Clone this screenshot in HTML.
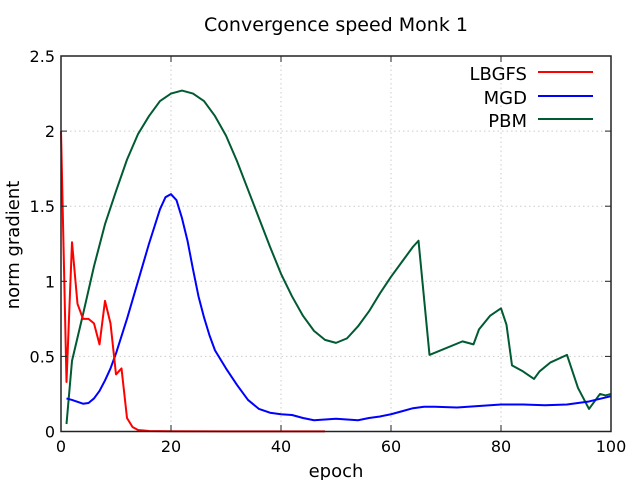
<!DOCTYPE html>
<html><head><meta charset="utf-8"><style>
body{margin:0;background:#fff}
svg text{font-family:"DejaVu Sans","Liberation Sans",sans-serif;fill:#000}
</style></head><body>
<svg id="chart" width="640" height="480" viewBox="0 0 640 480">
<rect width="640" height="480" fill="#fff"/>
<text x="336" y="31" font-size="19" text-anchor="middle">Convergence speed Monk 1</text>
<g id="grid"></g>
<g id="series"></g>
<rect x="61" y="56" width="550" height="375.5" fill="none" stroke="#222" stroke-width="1.5"/>
<g id="ticks"></g>
<text x="336" y="477" font-size="18" text-anchor="middle">epoch</text>
<text transform="translate(19,245) rotate(-90)" font-size="18" text-anchor="middle">norm gradient</text>
<g>
<text x="527" y="80" font-size="18" text-anchor="end">LBGFS</text>
<line x1="538" y1="72" x2="593" y2="72" stroke="#f00" stroke-width="2"/>
<text x="527" y="104" font-size="18" text-anchor="end">MGD</text>
<line x1="538" y1="96" x2="593" y2="96" stroke="#00f" stroke-width="2"/>
<text x="527" y="127" font-size="18" text-anchor="end">PBM</text>
<line x1="538" y1="119" x2="593" y2="119" stroke="#005a32" stroke-width="2"/>
</g>
</svg>
<script>
const xTicks=[0,20,40,60,80,100];
const yTicks=[0,0.5,1,1.5,2,2.5];
const yTickLabels=["0","0.5","1","1.5","2","2.5"];
const lbgfsEpochs=[0,1,2,3,4,5,6,7,8,9,10,11,12,13,14,16,20,30,40,48];
const lbgfsValues=[2.0,0.33,1.26,0.85,0.75,0.75,0.72,0.58,0.87,0.72,0.38,0.42,0.09,0.03,0.01,0.003,0.002,0.001,0.001,0.001];
const mgdEpochs=[1,2,4,5,6,7,8,9,10,12,14,16,18,19,20,21,22,23,24,25,26,27,28,30,32,34,36,38,40,42,44,46,48,50,52,54,56,58,60,62,64,66,68,72,76,80,84,88,92,96,100];
const mgdValues=[0.22,0.21,0.185,0.19,0.22,0.27,0.34,0.42,0.52,0.75,1.0,1.25,1.48,1.56,1.58,1.54,1.42,1.27,1.08,0.9,0.76,0.64,0.54,0.42,0.31,0.21,0.15,0.125,0.115,0.11,0.09,0.075,0.08,0.085,0.08,0.075,0.09,0.1,0.115,0.135,0.155,0.165,0.165,0.16,0.17,0.18,0.18,0.175,0.18,0.2,0.235];
const pbmEpochs=[1,2,4,6,8,10,12,14,16,18,20,22,24,26,28,30,32,34,36,38,40,42,44,46,48,50,52,54,56,58,60,62,64,65,67,73,75,76,78,80,81,82,84,86,87,89,92,94,96,98,99,100];
const pbmValues=[0.05,0.47,0.78,1.1,1.38,1.6,1.81,1.98,2.1,2.2,2.25,2.27,2.25,2.2,2.1,1.97,1.8,1.61,1.42,1.23,1.05,0.9,0.77,0.67,0.61,0.59,0.62,0.7,0.8,0.92,1.03,1.13,1.23,1.27,0.51,0.6,0.58,0.68,0.77,0.82,0.71,0.44,0.4,0.35,0.4,0.46,0.51,0.29,0.15,0.25,0.24,0.25];
const NS='http://www.w3.org/2000/svg';
const X=v=>61+v*5.5, Y=v=>431.5-v*150.2;
const grid=document.getElementById('grid'), ticks=document.getElementById('ticks'), ser=document.getElementById('series');
function mk(tag,attrs,parent){const e=document.createElementNS(NS,tag);for(const k in attrs)e.setAttribute(k,attrs[k]);parent.appendChild(e);return e;}
xTicks.forEach(t=>{
  const g=mk('line',{x1:X(t),x2:X(t),y1:56,y2:431,stroke:'#ccc','stroke-dasharray':'1.5,3'},grid);
  
  
  const a=mk('line',{x1:X(t),x2:X(t),y1:431,y2:425,stroke:'#222'},ticks);
  
  
  const b=mk('line',{x1:X(t),x2:X(t),y1:56,y2:62,stroke:'#222'},ticks);
  
  
  const l=mk('text',{x:X(t),y:452,'font-size':16,'text-anchor':'middle'},ticks);l.textContent=t;
  
  
});
yTicks.forEach((t,i)=>{
  const g=mk('line',{x1:61,x2:611,y1:Y(t),y2:Y(t),stroke:'#ccc','stroke-dasharray':'1.5,3'},grid);
  
  
  const a=mk('line',{x1:61,x2:67,y1:Y(t),y2:Y(t),stroke:'#222'},ticks);
  
  
  const b=mk('line',{x1:605,x2:611,y1:Y(t),y2:Y(t),stroke:'#222'},ticks);
  
  
  const l=mk('text',{x:55,y:Y(t)+6,'font-size':16,'text-anchor':'end'},ticks);l.textContent=yTickLabels[i];
  
  
});
function line(xs,ys,color,name){
  const p=mk('polyline',{points:xs.map((x,i)=>X(x)+','+Y(ys[i])).join(' '),fill:'none',stroke:color,'stroke-width':2,'stroke-linejoin':'round'},ser);
  
  
}
line(pbmEpochs,pbmValues,'#005a32','series-pbm');
line(mgdEpochs,mgdValues,'#00f','series-mgd');
line(lbgfsEpochs,lbgfsValues,'#f00','series-lbgfs');
</script>
</body></html>
